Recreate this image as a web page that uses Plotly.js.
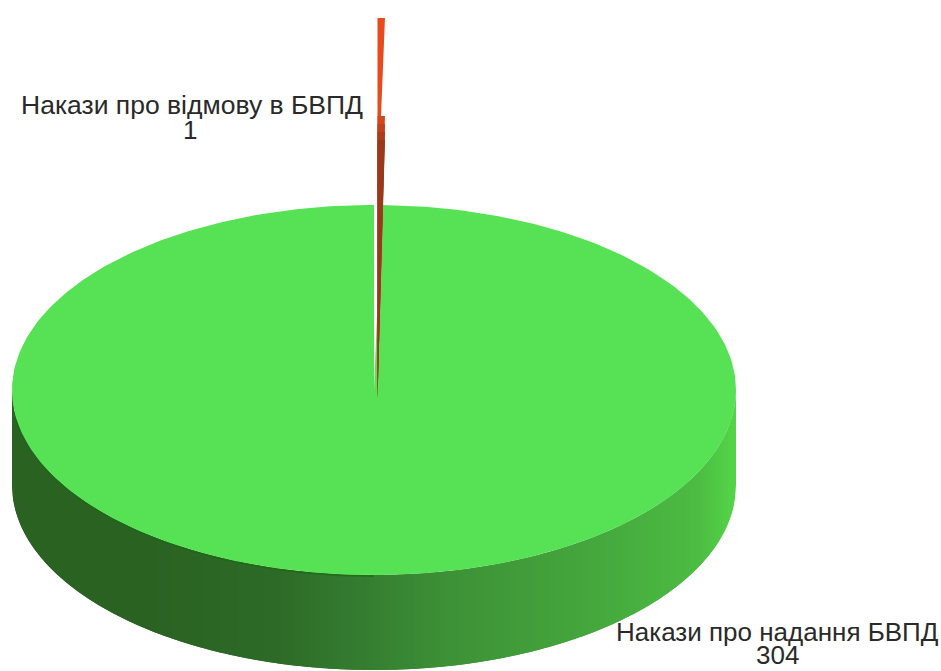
<!DOCTYPE html>
<html>
<head>
<meta charset="utf-8">
<script src="https://cdn.plot.ly/plotly-3.0.1.min.js"></script>
<style>html,body{margin:0;padding:0;background:#fff}#chart{width:941px;height:671px}</style>
</head>
<body>
<div id="chart"></div>
<script>
// Data
const labels = ['Накази про надання БВПД', 'Накази про відмову в БВПД'];
const values = [304, 1];
const topColors = ['#57e255', '#e84a1e'];
const cutColors = ['#d4461d', '#bf421c', '#aa3e1b', '#98391b'];
// Wall shading along the rim, from left to right
const wallStopX = [12, 150, 280, 374, 450, 600, 700, 736];
const wallStopRGB = [[42,98,34],[42,98,34],[45,106,39],[53,127,49],[61,145,54],[69,168,61],[76,188,66],[84,212,72]];

// Projection of the pie on the axes
const cx = 374, cy = 390, rx = 362, ry = 185, depth = 95;
const explodeX = 3.5, explodeY = -187;
const cutTops = [98, 106, 114, 122], cutEnd = 196;
const total = values.reduce((a, b) => a + b, 0);
const rad = d => d * Math.PI / 180;
const px = (deg, ox = 0) => cx + ox + rx * Math.cos(rad(deg));
const py = (deg, oy = 0) => cy + oy + ry * Math.sin(rad(deg));
const start = -90;
const redEnd = start + values[1] / total * 360;
const greenEnd = start + 360;

function poly(xs, ys, color) {
  return {type: 'scatter', mode: 'lines', x: xs, y: ys, fill: 'toself', fillcolor: color,
          line: {width: 0, color: color}, hoverinfo: 'skip', showlegend: false};
}
function wallColor(x) {
  let i = 0;
  while (i < wallStopX.length - 2 && x > wallStopX[i + 1]) i++;
  const t = Math.min(1, Math.max(0, (x - wallStopX[i]) / (wallStopX[i + 1] - wallStopX[i])));
  const c = wallStopRGB[i].map((v, k) => Math.round(v + (wallStopRGB[i + 1][k] - v) * t));
  return `rgb(${c[0]},${c[1]},${c[2]})`;
}
const rimY = x => cy + ry * Math.sqrt(Math.max(0, 1 - ((x - cx) / rx) ** 2));

const traces = [];
// Rim of the large slice: strips of equal width, each overlapping the previous one
const stripWidth = 2, overlap = 2;
for (let x = cx - rx; x < cx + rx; x += stripWidth) {
  const x0 = Math.max(cx - rx, x - overlap), x1 = Math.min(cx + rx, x + stripWidth);
  const xs = [], ys = [];
  const n = 4;
  for (let k = 0; k <= n; k++) { const v = x0 + (x1 - x0) * k / n; xs.push(v); ys.push(rimY(v)); }
  for (let k = n; k >= 0; k--) { const v = x0 + (x1 - x0) * k / n; xs.push(v); ys.push(rimY(v) + depth); }
  xs.push(xs[0]); ys.push(ys[0]);
  traces.push(poly(xs, ys, wallColor(x + stripWidth / 2)));
}
// Darker seam under the left part of the top face
const seamX = [], seamY = [];
for (let a = 90; a <= 172; a += 1) { seamX.push(px(a)); seamY.push(py(a, 1)); }
traces.push({type: 'scatter', mode: 'lines', x: seamX, y: seamY,
  line: {width: 2, color: 'rgba(28,105,22,0.75)'}, hoverinfo: 'skip', showlegend: false});
// Top face of the large slice
const gx = [cx], gy = [cy];
for (let a = redEnd; a <= greenEnd + 0.001; a += (greenEnd - redEnd) / 360) { gx.push(px(a)); gy.push(py(a)); }
gx.push(cx); gy.push(cy);
traces.push(poly(gx, gy, topColors[0]));
// Small exploded slice: top face and cut face
const sx = [cx + explodeX, px(start, explodeX), px(redEnd, explodeX), cx + explodeX];
const sy = [cy + explodeY, py(start, explodeY), py(redEnd, explodeY), cy + explodeY];
traces.push(poly(sx, sy, topColors[1]));
cutTops.forEach((top, i) => {
  traces.push(poly(
    [px(start, explodeX), px(redEnd, explodeX), cx + explodeX, px(start, explodeX)],
    [py(start, explodeY + top), py(redEnd, explodeY + top), cy + explodeY + cutEnd, py(start, explodeY + top)],
    cutColors[i]));
});

const textFont = size => ({family: 'Liberation Sans, Arial, sans-serif', size: size, color: '#2a2a2a'});
const note = (text, x, y, size) => ({
  text: text, x: x, y: y, xref: 'x', yref: 'y', showarrow: false,
  xanchor: 'center', yanchor: 'middle', align: 'center', font: textFont(size)
});
const annotations = [
  note(labels[1], 192, 105, 26.5),
  note(String(values[1]), 190, 130, 26),
  note(labels[0], 777.5, 632, 26),
  note(String(values[0]), 777, 655, 26)
];

Plotly.newPlot('chart', traces, {
  width: 941, height: 671,
  margin: {l: 0, r: 0, t: 0, b: 0},
  paper_bgcolor: '#fff', plot_bgcolor: '#fff',
  xaxis: {range: [0, 941], visible: false, fixedrange: true},
  yaxis: {range: [671, 0], visible: false, fixedrange: true},
  annotations: annotations,
  showlegend: false
}, {displayModeBar: false, staticPlot: true});
</script>
</body>
</html>
